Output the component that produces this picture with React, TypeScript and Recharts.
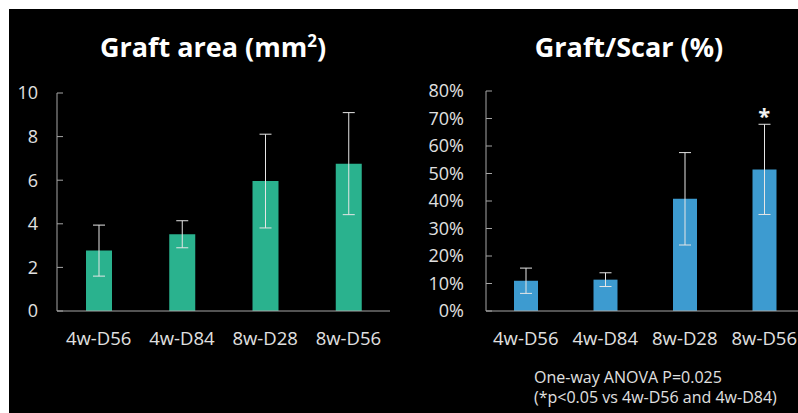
import React from 'react';
import { BarChart, Bar, XAxis, YAxis, ErrorBar, ReferenceDot } from 'recharts';

const categories = ['4w-D56', '4w-D84', '8w-D28', '8w-D56'];
const areaMean = [2.77, 3.52, 5.96, 6.76];
const areaErr = [1.17, 0.62, 2.15, 2.34];
const ratioMean = [11.0, 11.4, 40.8, 51.5];
const ratioErr = [4.6, 2.5, 16.8, 16.4];
const areaTicks = [0, 2, 4, 6, 8, 10];
const ratioTicks = [0, 10, 20, 30, 40, 50, 60, 70, 80];

const areaData = categories.map((name, i) => ({ name, value: areaMean[i], err: areaErr[i] }));
const ratioData = categories.map((name, i) => ({ name, value: ratioMean[i], err: ratioErr[i] }));

const FONT = '"Open Sans", sans-serif';
const AXIS = '#a6a6a6';
const LABEL = '#e0e0e0';

// y ticks point inward, so draw them by hand next to the label
const makeYTick = (gap: number, fmt: (v: number) => string) => (props: any) => {
  const { x, y, payload } = props;
  return (
    <g>
      <line x1={x + gap} x2={x + gap + 6} y1={y} y2={y} stroke={AXIS} strokeWidth={1} />
      <text x={x} y={y} dy="0.35em" textAnchor="end" fill={LABEL} fontSize={18} fontFamily={FONT}>
        {fmt(payload.value)}
      </text>
    </g>
  );
};

const xTick = {
  fill: LABEL,
  fontSize: 18.5,
  fontFamily: FONT,
};

export default function App() {
  return (
    <div style={{ position: 'absolute', left: 0, top: 0, width: 798, height: 413, background: '#fff', overflow: 'hidden' }}>
      <div style={{ position: 'absolute', left: 9, top: 9, width: 789, height: 404, background: '#000' }} />

      <div style={{ position: 'absolute', left: 0, top: 0 }}>
        <BarChart width={400} height={413} data={areaData} margin={{ top: 93, right: 10, bottom: 72, left: 0 }}>
          <XAxis
            dataKey="name"
            height={30}
            axisLine={{ stroke: AXIS }}
            tickLine={false}
            tickSize={0}
            tickMargin={21}
            tick={xTick}
            interval={0}
          />
          <YAxis
            width={57}
            domain={[0, 10]}
            ticks={areaTicks}
            axisLine={{ stroke: AXIS }}
            tickLine={false}
            tickSize={0}
            tickMargin={19}
            tick={makeYTick(19, (v) => String(v))}
            interval={0}
          />
          <Bar dataKey="value" fill="#2ab28e" barSize={26} isAnimationActive={false}>
            <ErrorBar dataKey="err" width={6} stroke="#e6e6e6" strokeWidth={1} direction="y" isAnimationActive={false} />
          </Bar>
        </BarChart>
      </div>

      <div style={{ position: 'absolute', left: 400, top: 0, width: 398, height: 413, overflow: 'hidden' }}>
        <BarChart width={420} height={413} data={ratioData} margin={{ top: 91, right: 16, bottom: 72, left: 0 }}>
          <XAxis
            dataKey="name"
            height={30}
            axisLine={{ stroke: AXIS }}
            tickLine={false}
            tickSize={0}
            tickMargin={21}
            tick={xTick}
            interval={0}
          />
          <YAxis
            width={86}
            domain={[0, 80]}
            ticks={ratioTicks}
            axisLine={{ stroke: AXIS }}
            tickLine={false}
            tickSize={0}
            tickMargin={22}
            tick={makeYTick(22, (v) => `${v}%`)}
            interval={0}
          />
          <Bar dataKey="value" fill="#3d9bd0" barSize={24} isAnimationActive={false}>
            <ErrorBar dataKey="err" width={6} stroke="#e6e6e6" strokeWidth={1} direction="y" isAnimationActive={false} />
          </Bar>
          <ReferenceDot
            x={categories[3]}
            y={ratioMean[3] + ratioErr[3]}
            r={0}
            stroke="none"
            label={{ value: '*', position: 'top', offset: 0, fill: '#f2f2f2', fontSize: 22, fontWeight: 700, fontFamily: FONT }}
          />
        </BarChart>
      </div>

      <svg width={798} height={413} style={{ position: 'absolute', left: 0, top: 0, pointerEvents: 'none' }}>
        <text x={213} y={57} textAnchor="middle" fill="#fff" fontSize={27} fontWeight={700} fontFamily={FONT}>
          Graft area (mm<tspan dy={-10} fontSize={17}>2</tspan><tspan dy={10}>)</tspan>
        </text>
        <text x={629} y={57} textAnchor="middle" fill="#fff" fontSize={27} fontWeight={700} fontFamily={FONT}>
          Graft/Scar (%)
        </text>
        <text x={534} y={383} fill={LABEL} fontSize={16} fontFamily={FONT}>
          One-way ANOVA P=0.025
        </text>
        <text x={534} y={403} fill={LABEL} fontSize={16} fontFamily={FONT}>
          (*p&lt;0.05 vs 4w-D56 and 4w-D84)
        </text>
      </svg>
    </div>
  );
}
